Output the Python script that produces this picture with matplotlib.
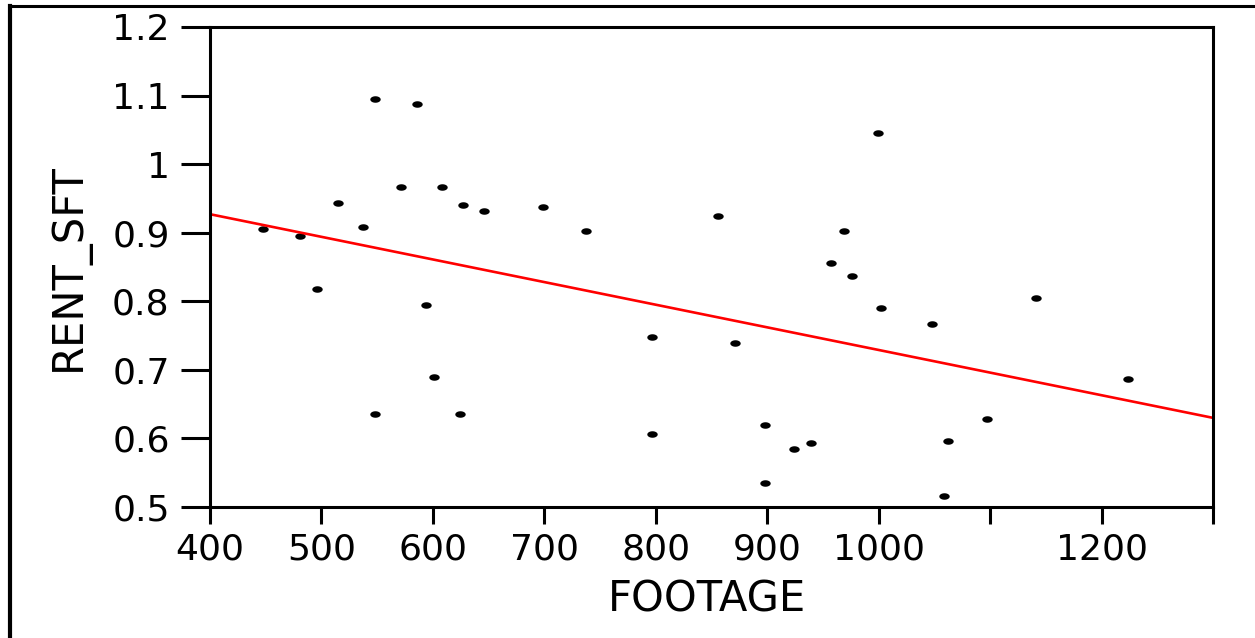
import matplotlib.pyplot as plt
from matplotlib.path import Path
from matplotlib.lines import Line2D
import numpy as np

# apartment size vs. rent per square foot
footage = [448, 481, 496, 515, 537, 548, 548, 571, 586, 594, 601, 608, 624, 627, 646,
           699, 737, 797, 797, 856, 871, 898, 898, 924, 939, 957, 969, 976, 999, 1002,
           1048, 1059, 1062, 1097, 1141, 1224]
rent_sft = [0.906, 0.895, 0.818, 0.944, 0.909, 1.095, 0.636, 0.967, 1.088, 0.795, 0.689,
            0.967, 0.636, 0.940, 0.932, 0.937, 0.902, 0.748, 0.607, 0.925, 0.739, 0.619,
            0.535, 0.584, 0.593, 0.856, 0.902, 0.837, 1.046, 0.790, 0.767, 0.516, 0.596,
            0.628, 0.805, 0.686]

# fitted regression line, end points
fit_x = [400, 1300]
fit_y = [0.927, 0.630]

x_ticks = [400, 500, 600, 700, 800, 900, 1000, 1100, 1200, 1300]
x_ticklabels = ['400', '500', '600', '700', '800', '900', '1000', '', '1200', '']
y_ticks = [0.5, 0.6, 0.7, 0.8, 0.9, 1.0, 1.1, 1.2]
y_ticklabels = ['0.5', '0.6', '0.7', '0.8', '0.9', '1', '1.1', '1.2']

plt.rcParams['font.family'] = ['DejaVu Sans']

fig = plt.figure(figsize=(12.55, 6.38), dpi=100)
ax = fig.add_axes([210 / 1255, 1 - 507 / 638, 1003 / 1255, 480 / 638])

# flat oval marker for the points
t = np.linspace(0, 2 * np.pi, 40)
oval = Path(np.column_stack([1.6 * np.cos(t), np.sin(t)]), closed=True)

ax.plot(footage, rent_sft, linestyle='none', marker=oval, markersize=7.5,
        color='black', markeredgewidth=0)
ax.plot(fit_x, fit_y, color='#ff0000', linewidth=1.9)

ax.set_xlim(400, 1300)
ax.set_ylim(0.5, 1.2)
ax.set_xticks(x_ticks)
ax.set_xticklabels(x_ticklabels)
ax.set_yticks(y_ticks)
ax.set_yticklabels(y_ticklabels)

for s in ax.spines.values():
    s.set_linewidth(2.2)
ax.tick_params(axis='y', direction='out', length=21, width=2.2, pad=8, labelsize=26)
ax.tick_params(axis='x', direction='out', length=12, width=2.2, pad=6, labelsize=26)

ax.set_xlabel('FOOTAGE', fontsize=30)
ax.set_ylabel('RENT_SFT', fontsize=30)
ax.xaxis.set_label_coords(0.496, -0.15)
ax.yaxis.set_label_coords(-0.12, 0.5)

# outer page border (left and top edges)
fig.add_artist(Line2D([10 / 1255, 10 / 1255], [0, 1 - 6 / 638], transform=fig.transFigure,
                      color='black', linewidth=3))
fig.add_artist(Line2D([10 / 1255, 1], [1 - 6 / 638, 1 - 6 / 638], transform=fig.transFigure,
                      color='black', linewidth=2.2))

fig.savefig('out.png', dpi=100)
